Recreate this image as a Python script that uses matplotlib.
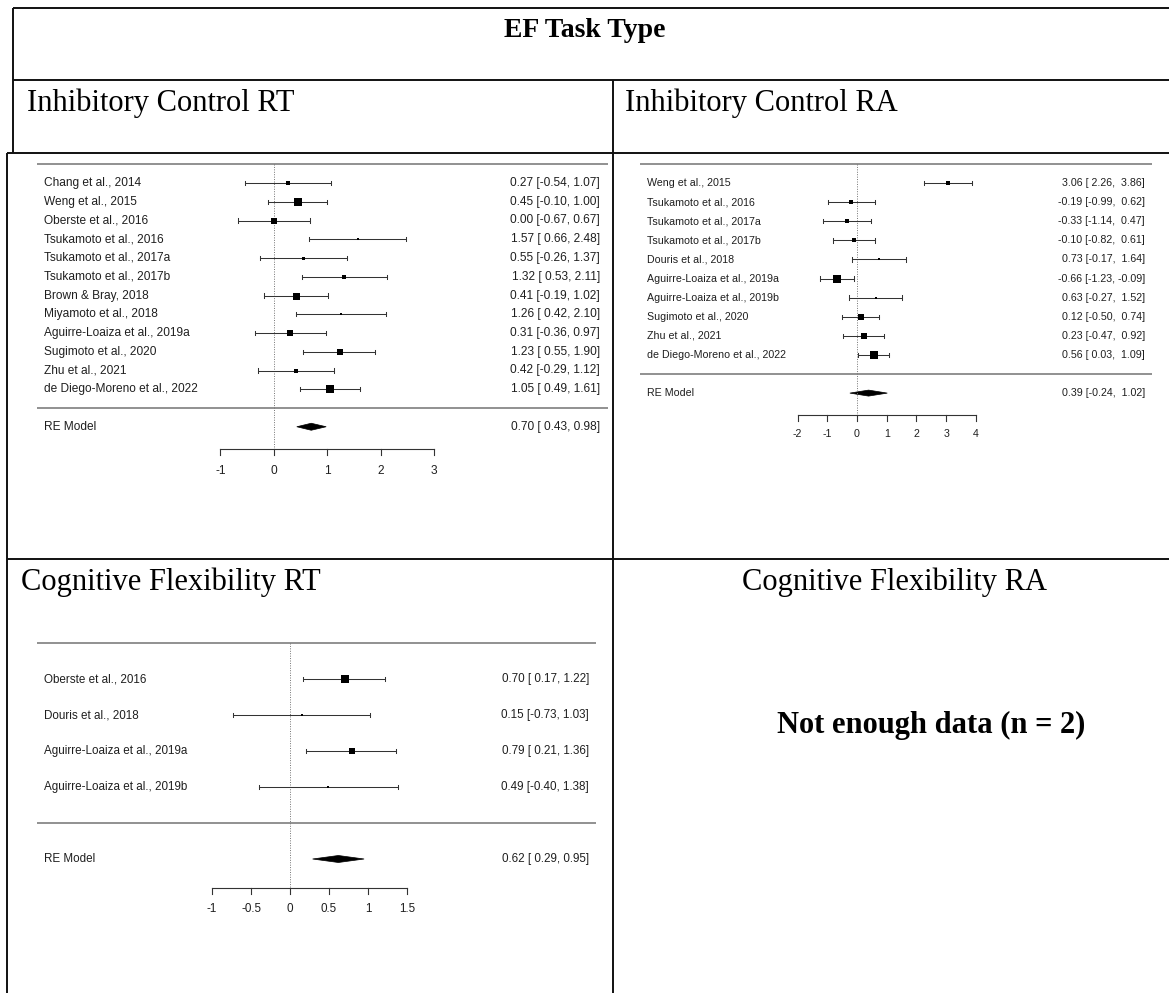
import matplotlib
matplotlib.use("Agg")
import matplotlib.pyplot as plt
from matplotlib.lines import Line2D
from matplotlib.patches import Polygon

# ---------------- data ----------------
ic_rt_studies = ["Chang et al., 2014", "Weng et al., 2015", "Oberste et al., 2016",
                 "Tsukamoto et al., 2016", "Tsukamoto et al., 2017a", "Tsukamoto et al., 2017b",
                 "Brown & Bray, 2018", "Miyamoto et al., 2018", "Aguirre-Loaiza et al., 2019a",
                 "Sugimoto et al., 2020", "Zhu et al., 2021", "de Diego-Moreno et al., 2022"]
ic_rt_est = [0.27, 0.45, 0.00, 1.57, 0.55, 1.32, 0.41, 1.26, 0.31, 1.23, 0.42, 1.05]
ic_rt_lo = [-0.54, -0.10, -0.67, 0.66, -0.26, 0.53, -0.19, 0.42, -0.36, 0.55, -0.29, 0.49]
ic_rt_hi = [1.07, 1.00, 0.67, 2.48, 1.37, 2.11, 1.02, 2.10, 0.97, 1.90, 1.12, 1.61]
ic_rt_weight = [4.0, 8.0, 6.0, 2.5, 3.0, 4.0, 7.0, 2.6, 6.0, 6.0, 5.0, 7.5]
ic_rt_re = [0.70, 0.43, 0.98]
ic_rt_ticks = [-1, 0, 1, 2, 3]
ic_rt_ticklabels = ["-1", "0", "1", "2", "3"]

ic_ra_studies = ["Weng et al., 2015", "Tsukamoto et al., 2016", "Tsukamoto et al., 2017a",
                 "Tsukamoto et al., 2017b", "Douris et al., 2018", "Aguirre-Loaiza et al., 2019a",
                 "Aguirre-Loaiza et al., 2019b", "Sugimoto et al., 2020", "Zhu et al., 2021",
                 "de Diego-Moreno et al., 2022"]
ic_ra_est = [3.06, -0.19, -0.33, -0.10, 0.73, -0.66, 0.63, 0.12, 0.23, 0.56]
ic_ra_lo = [2.26, -0.99, -1.14, -0.82, -0.17, -1.23, -0.27, -0.50, -0.47, 0.03]
ic_ra_hi = [3.86, 0.62, 0.47, 0.61, 1.64, -0.09, 1.52, 0.74, 0.92, 1.09]
ic_ra_weight = [4.0, 4.0, 4.3, 5.0, 2.5, 7.3, 2.5, 6.0, 5.3, 8.0]
ic_ra_re = [0.39, -0.24, 1.02]
ic_ra_ticks = [-2, -1, 0, 1, 2, 3, 4]
ic_ra_ticklabels = ["-2", "-1", "0", "1", "2", "3", "4"]

cf_rt_studies = ["Oberste et al., 2016", "Douris et al., 2018",
                 "Aguirre-Loaiza et al., 2019a", "Aguirre-Loaiza et al., 2019b"]
cf_rt_est = [0.70, 0.15, 0.79, 0.49]
cf_rt_lo = [0.17, -0.73, 0.21, -0.40]
cf_rt_hi = [1.22, 1.03, 1.36, 1.38]
cf_rt_weight = [8.0, 2.5, 6.5, 2.4]
cf_rt_re = [0.62, 0.29, 0.95]
cf_rt_ticks = [-1, -0.5, 0, 0.5, 1, 1.5]
cf_rt_ticklabels = ["-1", "-0.5", "0", "0.5", "1", "1.5"]

header_title = "EF Task Type"
cell_titles = ["Inhibitory Control RT", "Inhibitory Control RA",
               "Cognitive Flexibility RT", "Cognitive Flexibility RA"]
no_data_text = "Not enough data (n = 2)"
re_label = "RE Model"

# ---------------- figure ----------------
W, H, DPI = 1169, 993, 100
fig = plt.figure(figsize=(W / DPI, H / DPI), dpi=DPI)
fig.patch.set_facecolor("white")

SERIF = ["Liberation Serif", "DejaVu Serif"]
SANS = ["Liberation Sans", "DejaVu Sans"]


def fx(px):
    return px / W


def fy(py):
    return 1 - py / H


def fig_line(x0, y0, x1, y1, lw=1.4, color="#111111"):
    fig.add_artist(Line2D([fx(x0), fx(x1)], [fy(y0), fy(y1)],
                          transform=fig.transFigure, lw=lw, color=color,
                          solid_capstyle="butt"))


def fmt_col(vals, w=None):
    s = ["%.2f" % v for v in vals]
    n = max(len(t) for t in s)
    return [t.rjust(n) for t in s]


def forest(studies, est, lo, hi, wts, re, ticks, ticklabels, *, zero_px, unit_px,
           top_py, row_px, label_px, line_x0, line_x1, text_right, axis_py,
           tick_label_py, fs, smin=2.5, smax=8.0, dhalf=3.5):
    k = len(studies)
    ax = fig.add_axes([0, 0, 1, 1])
    ax.set_axis_off()
    ax.patch.set_visible(False)
    ax.set_xlim(-zero_px / unit_px, (W - zero_px) / unit_px)
    ax.set_ylim(k - (H - top_py) / row_px, k + top_py / row_px)

    def xd(px):
        return (px - zero_px) / unit_px

    def rows_from_px(py):
        return k - (py - top_py) / row_px

    rows = list(range(k, 0, -1))
    axis_row = rows_from_px(axis_py)
    tl_row = rows_from_px(tick_label_py)
    dy = 1.0 / row_px  # one pixel in row units

    # separator lines
    for r in (k + 1, 0):
        ax.plot([xd(line_x0), xd(line_x1)], [r, r], color="0.45", lw=1.1,
                solid_capstyle="butt")
    # reference line
    ax.plot([0, 0], [k + 1, axis_row], color="0.45", lw=0.7, ls=(0, (1, 1.5)))

    wmin, wmax = min(wts), max(wts)
    est_s = fmt_col(est)
    lo_s = fmt_col(lo + [re[1]])
    hi_s = fmt_col(hi + [re[2]])
    for i, r in enumerate(rows):
        ax.plot([lo[i], hi[i]], [r, r], color="0.2", lw=0.75)
        for e in (lo[i], hi[i]):
            ax.plot([e, e], [r - 2.2 * dy, r + 2.2 * dy], color="0.2", lw=0.75)
        side = smin + (wts[i] - wmin) / (wmax - wmin) * (smax - smin)
        ax.plot([est[i]], [r], marker="s", ms=side * 0.72, color="black", mec="black",
                mew=0)
        ax.text(xd(label_px), r, studies[i], ha="left", va="center", fontsize=fs,
                family=SANS, color="0.12")
        ax.text(xd(text_right), r, "%s [%s, %s]" % (est_s[i], lo_s[i], hi_s[i]),
                ha="right", va="center", fontsize=fs, family=SANS, color="0.12")
    # RE model
    ax.add_patch(Polygon([[re[1], -1], [re[0], -1 + dhalf * dy], [re[2], -1],
                          [re[0], -1 - dhalf * dy]], closed=True, fc="black", ec="black",
                         lw=0.5))
    ax.text(xd(label_px), -1, re_label, ha="left", va="center", fontsize=fs,
            family=SANS, color="0.12")
    ax.text(xd(text_right), -1, "%.2f [%s, %s]" % (re[0], lo_s[-1], hi_s[-1]),
            ha="right", va="center", fontsize=fs, family=SANS, color="0.12")
    # x axis
    ax.plot([ticks[0], ticks[-1]], [axis_row, axis_row], color="0.2", lw=0.8)
    for t, lab in zip(ticks, ticklabels):
        ax.plot([t, t], [axis_row, axis_row - 6 * dy], color="0.2", lw=0.8)
        ax.text(t, tl_row, lab, ha="center", va="center", fontsize=fs, family=SANS,
                color="0.12")


# ---------------- table frame ----------------
fig_line(12.7, 7.5, W, 7.5)
fig_line(12.7, 7.5, 12.7, 152.5)
fig_line(12.7, 80, W, 80)
fig_line(7, 152.5, W, 152.5)
fig_line(7, 152.5, 7, H)
fig_line(613, 80, 613, H)
fig_line(7, 559, W, 559)

fig.text(fx(585), fy(37), header_title, ha="center", va="baseline", fontsize=20,
         fontweight="bold", family=SERIF)
fig.text(fx(27), fy(111), cell_titles[0], ha="left", va="baseline", fontsize=22,
         family=SERIF)
fig.text(fx(625), fy(111), cell_titles[1], ha="left", va="baseline", fontsize=22,
         family=SERIF)
fig.text(fx(21), fy(590), cell_titles[2], ha="left", va="baseline", fontsize=22,
         family=SERIF)
fig.text(fx(895), fy(590), cell_titles[3], ha="center", va="baseline", fontsize=22,
         family=SERIF)
fig.text(fx(931), fy(733), no_data_text, ha="center", va="baseline", fontsize=22,
         fontweight="bold", family=SERIF)

# ---------------- forest plots ----------------
forest(ic_rt_studies, ic_rt_est, ic_rt_lo, ic_rt_hi, ic_rt_weight, ic_rt_re,
       ic_rt_ticks, ic_rt_ticklabels, zero_px=273.8, unit_px=53.45, top_py=183,
       row_px=18.75, label_px=44, line_x0=37, line_x1=608, text_right=600,
       axis_py=449, tick_label_py=471, fs=8.6, smin=2.5, smax=8.0)

forest(ic_ra_studies, ic_ra_est, ic_ra_lo, ic_ra_hi, ic_ra_weight, ic_ra_re,
       ic_ra_ticks, ic_ra_ticklabels, zero_px=857, unit_px=29.7, top_py=183,
       row_px=19.1, label_px=647, line_x0=640, line_x1=1152, text_right=1145,
       axis_py=415, tick_label_py=434, fs=7.7, smin=2.5, smax=8.0, dhalf=3.0)

forest(cf_rt_studies, cf_rt_est, cf_rt_lo, cf_rt_hi, cf_rt_weight, cf_rt_re,
       cf_rt_ticks, cf_rt_ticklabels, zero_px=290, unit_px=78, top_py=679,
       row_px=36, label_px=44, line_x0=37, line_x1=596, text_right=589,
       axis_py=888, tick_label_py=909, fs=8.4, smin=2.5, smax=8.0)

fig.savefig("out.png", dpi=DPI, facecolor="white")
